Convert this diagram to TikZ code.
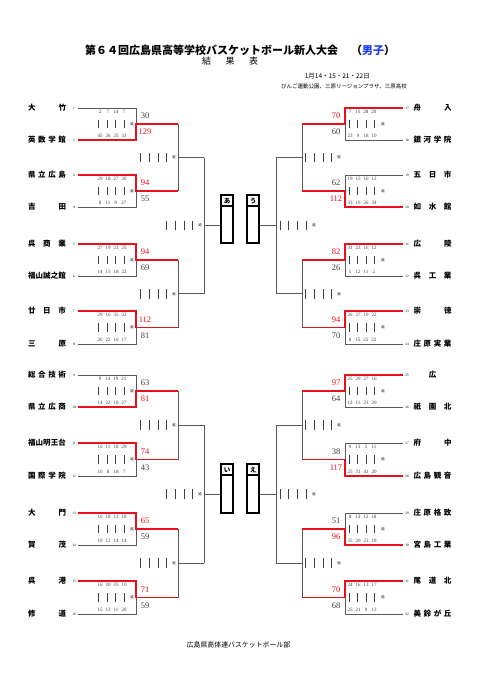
\documentclass[tikz,border=0pt]{standalone}
\usepackage{fontspec}
\setmainfont{Liberation Serif}
\newfontfamily\jp{Noto Sans CJK JP}
\definecolor{wred}{HTML}{E8101A}
\definecolor{lgray}{HTML}{5A5A5A}
\definecolor{sgray}{HTML}{404040}
\definecolor{tblue}{HTML}{2040F0}
\newcommand\qq[4]{\makebox[8pt]{#1}\makebox[8pt]{#2}\makebox[8pt]{#3}\makebox[8pt]{#4}}
\begin{document}
\begin{tikzpicture}[x=1pt,y=-1pt,
  gl/.style={draw=lgray,line width=0.8pt},
  rl/.style={draw=wred,line width=1.5pt},
  nm/.style={inner sep=0,font=\jp\bfseries\fontsize{7.5}{8}\selectfont},
  num/.style={inner sep=0,font=\fontsize{3.5}{4}\selectfont},
  qs/.style={inner sep=0,font=\fontsize{5}{5}\selectfont,text=sgray},
  sc/.style={inner sep=0,font=\fontsize{8.5}{9}\selectfont},
  ext/.style={inner sep=0,font=\jp\fontsize{3.5}{4}\selectfont},
  bar/.style={draw=black!75,line width=0.9pt},
  bx/.style={draw=black,line width=1.8pt,inner sep=0,minimum width=12pt},
  bxl/.style={inner sep=0,font=\jp\bfseries\fontsize{6.5}{7}\selectfont},
]
\useasboundingbox (0,0) rectangle (481,680);
\fill[white] (0,0) rectangle (481,680);

% ---------- header ----------
\node[anchor=west,inner sep=0,font=\jp\bfseries\fontsize{11}{12}\selectfont] (title) at (85,50) {第６４回広島県高等学校バスケットボール新人大会};
\node[anchor=west,inner sep=0,font=\jp\bfseries\fontsize{11}{12}\selectfont] (sex) at (351,50) {（\textcolor{tblue}{男子}）};
\node[inner sep=0,font=\jp\fontsize{9}{10}\selectfont] (kekka) at (230,61.5) {\makebox[56pt][s]{結\hfill 果\hfill 表}};
\node[anchor=east,inner sep=0,font=\jp\fontsize{6.5}{7}\selectfont] (date) at (370,76) {1月14・15・21・22日};
\node[anchor=east,inner sep=0,font=\jp\fontsize{5.5}{6}\selectfont] (venue) at (407,86.5) {びんご運動公園、三原リージョンプラザ、三原高校};
\node[inner sep=0,font=\jp\fontsize{6.9}{7}\selectfont] (footer) at (238.5,645) {広島県高体連バスケットボール部};

% ---------- left teams ----------
\foreach \n/\y/\nm/\q in {
 1/108/{大\hfill 竹}/{\qq{2}{7}{14}{7}},
 2/140/{英\hfill 数\hfill 学\hfill 館}/{\qq{45}{26}{25}{33}},
 3/175/{県\hfill 立\hfill 広\hfill 島}/{\qq{29}{18}{27}{20}},
 4/207/{吉\hfill 田}/{\qq{8}{11}{9}{27}},
 5/244/{呉\hfill 商\hfill 業}/{\qq{27}{19}{23}{25}},
 6/276/{福\hfill 山\hfill 誠\hfill 之\hfill 館}/{\qq{14}{15}{18}{22}},
 7/311/{廿\hfill 日\hfill 市}/{\qq{29}{16}{35}{32}},
 8/344/{三\hfill 原}/{\qq{26}{22}{16}{17}},
 9/375/{総\hfill 合\hfill 技\hfill 術}/{\qq{9}{14}{19}{21}},
 10/407/{県\hfill 立\hfill 広\hfill 商}/{\qq{14}{22}{18}{27}},
 11/443/{福\hfill 山\hfill 明\hfill 王\hfill 台}/{\qq{16}{11}{18}{29}},
 12/476/{国\hfill 際\hfill 学\hfill 院}/{\qq{10}{8}{18}{7}},
 13/513/{大\hfill 門}/{\qq{16}{18}{13}{18}},
 14/545/{賀\hfill 茂}/{\qq{19}{12}{14}{14}},
 15/581/{呉\hfill 港}/{\qq{16}{20}{25}{10}},
 16/614/{修\hfill 道}/{\qq{15}{13}{11}{20}}}{
  \ifodd\n \def\qy{\y+3.8}\else \def\qy{\y-4.2}\fi
  \coordinate (t\n) at (78,\y);
  \coordinate (e\n) at (136,\y);
  \node[nm] (name\n) at (47,\y) {\makebox[38pt][s]{\nm}};
  \node[num] (no\n) at (74,\y) {\n};
  \node[qs] (qs\n) at (112,{\qy}) {\q};
}

% ---------- right teams ----------
\foreach \n/\y/\nm/\q in {
 17/108/{舟\hfill 入}/{\qq{7}{15}{28}{20}},
 18/140/{銀\hfill 河\hfill 学\hfill 院}/{\qq{23}{9}{18}{10}},
 19/175/{五\hfill 日\hfill 市}/{\qq{19}{15}{16}{12}},
 20/207/{如\hfill 水\hfill 館}/{\qq{33}{19}{26}{34}},
 21/244/{広\hfill 陵}/{\qq{31}{23}{16}{12}},
 22/276/{呉\hfill 工\hfill 業}/{\qq{1}{12}{11}{2}},
 23/311/{崇\hfill 徳}/{\qq{26}{27}{19}{22}},
 24/344/{庄\hfill 原\hfill 実\hfill 業}/{\qq{8}{15}{25}{22}},
 25/375/{\hfill 広\hfill}/{\qq{25}{29}{27}{16}},
 26/407/{祇\hfill 園\hfill 北}/{\qq{12}{11}{21}{20}},
 27/443/{府\hfill 中}/{\qq{9}{13}{5}{11}},
 28/476/{広\hfill 島\hfill 観\hfill 音}/{\qq{25}{31}{41}{20}},
 29/513/{庄\hfill 原\hfill 格\hfill 致}/{\qq{8}{13}{12}{18}},
 30/545/{宮\hfill 島\hfill 工\hfill 業}/{\qq{35}{20}{23}{18}},
 31/581/{尾\hfill 道\hfill 北}/{\qq{24}{16}{13}{17}},
 32/614/{美\hfill 鈴\hfill が\hfill 丘}/{\qq{25}{21}{9}{13}}}{
  \ifodd\n \def\qy{\y+3.8}\else \def\qy{\y-4.2}\fi
  \coordinate (t\n) at (403,\y);
  \coordinate (e\n) at (345,\y);
  \node[nm] (name\n) at (432.5,\y) {\makebox[38pt][s]{\nm}};
  \node[num] (no\n) at (407,\y) {\n};
  \node[qs] (qs\n) at (362,{\qy}) {\q};
}

% ---------- round 2 connectors (gray) ----------
\foreach \r/\y/\xa/\xb/\bx/\ex in {1/157.5/178/204/140.7/174, 2/293.75/178/204/140.7/174,
   3/425.25/178/204/140.7/174, 4/563.25/178/204/140.7/174,
   5/157.5/302/276/305.7/339, 6/293.75/302/276/305.7/339,
   7/425.25/302/276/305.7/339, 8/563.25/302/276/305.7/339}{
  \coordinate (q\r) at (\xa,\y);
  \coordinate (s\r) at (\xb,\y);
  \draw[gl] (q\r) -- (s\r);
  \foreach \i in {0,...,3}{\draw[bar] ({\bx+8.7*\i},{\y-4.8}) -- ({\bx+8.7*\i},{\y+4.8});}
  \node[ext] (x2-\r) at (\ex,\y) {延};
}

% ---------- first round ----------
\foreach \m/\ya/\yb/\scA/\scB/\w/\xm/\xn/\xs/\bx/\ex in {
 1/108/140/30/129/2/136/178/145/98.5/132,
 2/175/207/94/55/1/136/178/145/98.5/132,
 3/244/276/94/69/1/136/178/145/98.5/132,
 4/311/344/112/81/1/136/178/145/98.5/132,
 5/375/407/63/81/2/136/178/145/98.5/132,
 6/443/476/74/43/1/136/178/145/98.5/132,
 7/513/545/65/59/1/136/178/145/98.5/132,
 8/581/614/71/59/1/136/178/145/98.5/132,
 9/108/140/70/60/1/345/302/336/349/383,
 10/175/207/62/112/2/345/302/336/349/383,
 11/244/276/82/26/1/345/302/336/349/383,
 12/311/344/94/70/1/345/302/336/349/383,
 13/375/407/97/64/1/345/302/336/349/383,
 14/443/476/38/117/2/345/302/336/349/383,
 15/513/545/51/96/2/345/302/336/349/383,
 16/581/614/70/68/1/345/302/336/349/383}{
  \pgfmathsetmacro\ym{(\ya+\yb)/2}
  \pgfmathtruncatemacro\tA{2*\m-1}
  \pgfmathtruncatemacro\tB{2*\m}
  \coordinate (m\m) at (\xm,\ym);
  \coordinate (n\m) at (\xn,\ym);
  \ifnum\w=1 \edef\win{\tA}\edef\los{\tB}\def\cA{wred}\def\cB{sgray}%
  \else \edef\win{\tB}\edef\los{\tA}\def\cA{sgray}\def\cB{wred}\fi
  \draw[gl] (t\los) -- (e\los) -- (m\m);
  \node[sc,text=\cA] (sa\m) at (\xs,{\ym-8}) {\scA};
  \node[sc,text=\cB] (sb\m) at (\xs,{\ym+8}) {\scB};
  \foreach \i in {0,...,3}{\draw[bar] ({\bx+8.6*\i},{\ym-4.3}) -- ({\bx+8.6*\i},{\ym+4.3});}
  \node[ext] (x1-\m) at (\ex,\ym) {延};
}
% second-round verticals
\foreach \r in {1,...,8}{
  \pgfmathtruncatemacro\tA{2*\r-1}
  \pgfmathtruncatemacro\tB{2*\r}
  \draw[gl] (n\tA) -- (n\tB);
}
% red winner paths
\foreach \m/\w in {1/2,2/1,3/1,4/1,5/2,6/1,7/1,8/1,9/1,10/2,11/1,12/1,13/1,14/2,15/2,16/1}{
  \pgfmathtruncatemacro\win{2*\m-2+\w}
  \draw[rl,line join=miter] (t\win) -- (e\win) -- (m\m) -- (n\m);
}

% ---------- third round ----------
\foreach \k/\y/\x/\bx/\ex in {1/225.6/204/166.7/200, 2/494.25/204/166.7/200,
    3/225.6/276/280/314, 4/494.25/276/280/314}{
  \pgfmathtruncatemacro\tA{2*\k-1}
  \pgfmathtruncatemacro\tB{2*\k}
  \draw[gl] (s\tA) -- (s\tB);
  \coordinate (u\k) at (\x,\y);
  \foreach \i in {0,...,3}{\draw[bar] ({\bx+8.7*\i},{\y-4.8}) -- ({\bx+8.7*\i},{\y+4.8});}
  \node[ext] (x3-\k) at (\ex,\y) {延};
}

% ---------- final boxes ----------
\node[bx,minimum height=48pt] (bxA) at (227,219) {};
\node[bx,minimum height=48pt] (bxU) at (253,219) {};
\node[bx,minimum height=49pt] (bxI) at (227,488.5) {};
\node[bx,minimum height=49pt] (bxE) at (253,488.5) {};
\draw[line width=1.5pt] (bxA.north west) ++(0,12) -- ++(12,0);
\draw[line width=1.5pt] (bxU.north west) ++(0,12) -- ++(12,0);
\draw[line width=1.5pt] (bxI.north west) ++(0,12) -- ++(12,0);
\draw[line width=1.5pt] (bxE.north west) ++(0,12) -- ++(12,0);
\node[bxl] (lA) at (227,201.2) {あ};
\node[bxl] (lU) at (253,201.2) {う};
\node[bxl] (lI) at (227,470.2) {い};
\node[bxl] (lE) at (253,470.2) {え};
\draw[gl] (u1) -- (u1 -| bxA.west);
\draw[gl] (u3) -- (u3 -| bxU.east);
\draw[gl] (u2) -- (u2 -| bxI.west);
\draw[gl] (u4) -- (u4 -| bxE.east);
\end{tikzpicture}
\end{document}
